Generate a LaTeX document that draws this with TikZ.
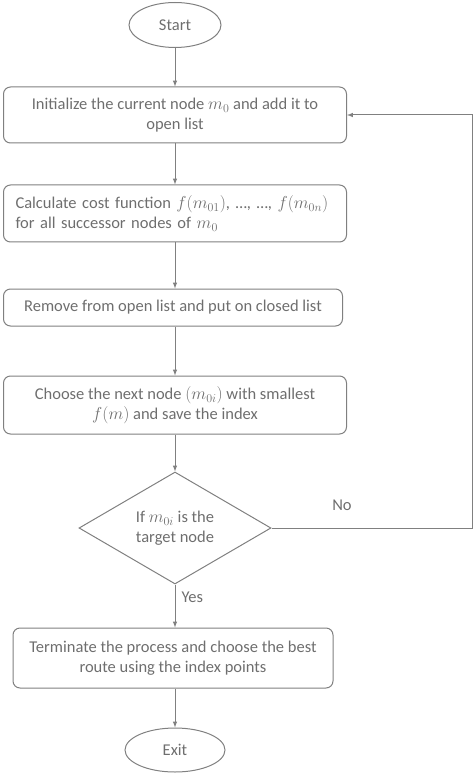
\documentclass[tikz,border=0pt]{standalone}
\usepackage{fontspec}
\setmainfont{Carlito}
\usepackage{xcolor}
\usepackage{tikz}
\usetikzlibrary{shapes,arrows,positioning}
\definecolor{linegray}{HTML}{808080}
\definecolor{textgray}{HTML}{6E6E6E}
\def\colx{175}

\begin{document}
\begin{tikzpicture}[x=1pt,y=1pt,->,>=latex,draw=linegray,line width=1pt,
    font=\fontsize{16.5}{19.5}\selectfont,text=textgray]
    \tikzstyle{terminal}=[ellipse,draw,minimum width=92pt,minimum height=45pt,inner sep=0pt]
    \tikzstyle{process}=[rectangle,rounded corners=7pt,draw,minimum width=343pt,inner sep=0pt,align=center]
    \tikzstyle{decision}=[diamond,draw,minimum width=192pt,minimum height=98pt,inner sep=0pt,align=center]
    \tikzstyle{annot}=[inner sep=0pt]

    \useasboundingbox (0,0) rectangle (474,-775);

    % Draw the start and the steps
    \node[terminal] (start) at (\colx,-25) {Start};
    \node[process,minimum height=56pt] (init) at (\colx,-115)
        {Initialize the current node $m_0$ and add it to\\open list};
    \node[process,minimum height=57pt,text width=319pt,align=left] (calc) at (\colx,-213.5)
        {\mbox{Calculate cost function $f(m_{01})$, …, …, $f(m_{0n})$}\\for all successor nodes of $m_0$};
    \node[process,minimum width=339pt,minimum height=37pt] (remove) at (\colx-2,-307.5)
        {Remove from open list and put on closed list};
    \node[process,minimum height=58pt] (choose) at (\colx,-405)
        {Choose the next node $(m_{0i})$ with smallest\\$f(m)$ and save the index};

    % Draw the test
    \node[decision] (test) at (\colx,-528) {If $m_{0i}$ is the\\target node};

    % Draw the end
    \node[process,minimum width=320pt,minimum height=60pt] (term) at (\colx-2,-658)
        {Terminate the process and choose the best\\route using the index points};
    \node[terminal,minimum width=100pt,minimum height=44pt] (exit) at (\colx,-750) {Exit};

    % Connect the steps
    \draw (start) -- (init);
    \draw (init.south) -- (init.south |- calc.north);
    \draw (calc.south) -- (calc.south |- remove.north);
    \draw (remove.south -| calc.south) -- (choose.north);
    \draw (choose) -- (test);
    \draw (test.south) -- (test.south |- term.north);
    \draw (term.south -| test.south) -- (exit);

    % Loop back when the target is not reached
    \coordinate (back) at (472.5,-528);
    \draw (test.east) -- (back) |- (init.east);

    % Annotate the branches
    \node[annot] (no) at (342,-505) {No};
    \node[annot,anchor=west] (yes) at (181,-597) {Yes};

\end{tikzpicture}
\end{document}
